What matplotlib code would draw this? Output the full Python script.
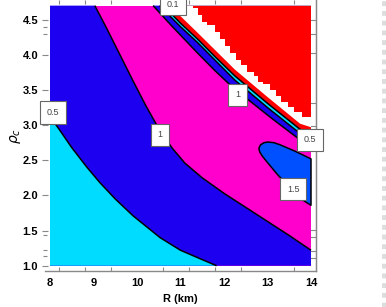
import matplotlib
matplotlib.use('Agg')
import matplotlib.pyplot as plt
from matplotlib.lines import Line2D
import numpy as np

# contour lines (R in km, rho_c)
R_lo05 = [8.0, 8.2, 8.5, 8.85, 9.15, 9.5, 9.91, 10.53, 11.0, 11.45, 11.83]
rho_lo05 = [3.12, 2.95, 2.68, 2.40, 2.18, 1.95, 1.71, 1.40, 1.22, 1.10, 1.0]

R_lo1 = [9.03, 9.3, 9.6, 9.9, 10.2, 10.5, 10.8, 11.1, 11.5, 12.0, 12.5, 13.0, 13.5, 14.0]
rho_lo1 = [4.70, 4.38, 4.01, 3.64, 3.28, 2.95, 2.68, 2.46, 2.25, 2.03, 1.83, 1.63, 1.43, 1.22]

R_up1 = [10.37, 10.8, 11.37, 11.8, 12.18, 12.48, 13.11, 13.75, 14.0]
rho_up1 = [4.7, 4.41, 4.04, 3.77, 3.55, 3.40, 3.09, 2.79, 2.72]

R_up05 = [10.52, 11.0, 11.40, 11.8, 12.25, 13.0, 13.75, 14.0]
rho_up05 = [4.7, 4.40, 4.17, 3.92, 3.64, 3.25, 2.88, 2.83]

R_up01 = [10.61, 11.0, 11.40, 11.8, 12.25, 13.0, 13.75, 14.0]
rho_up01 = [4.7, 4.45, 4.22, 3.97, 3.70, 3.31, 2.94, 2.89]

# edge of the undefined (white) band
R_nan_lo = [10.75, 11.40, 12.25, 13.0, 13.75, 14.0]
rho_nan_lo = [4.7, 4.31, 3.79, 3.40, 3.02, 2.97]

R_nan_hi = [11.29, 11.29, 11.40, 11.40, 11.50, 11.50, 11.62, 11.62, 11.79, 11.79,
            11.90, 11.90, 12.02, 12.02, 12.14, 12.14, 12.28, 12.28, 12.40, 12.40,
            12.52, 12.52, 12.68, 12.68, 12.78, 12.78, 12.90, 12.90, 13.05, 13.05,
            13.20, 13.20, 13.32, 13.32, 13.48, 13.48, 13.62, 13.62, 13.80, 13.80, 14.0]
rho_nan_hi = [4.70, 4.66, 4.66, 4.57, 4.57, 4.47, 4.47, 4.42, 4.42, 4.32,
              4.32, 4.22, 4.22, 4.12, 4.12, 4.03, 4.03, 3.93, 3.93, 3.85,
              3.85, 3.76, 3.76, 3.70, 3.70, 3.62, 3.62, 3.58, 3.58, 3.50,
              3.50, 3.42, 3.42, 3.33, 3.33, 3.26, 3.26, 3.19, 3.19, 3.12, 3.12]

# closed 1.5 contour
R_15 = [12.80, 12.84, 12.92, 13.01, 13.15, 13.29, 13.63, 14.0, 14.0, 13.82, 13.52, 13.24, 13.01, 12.88, 12.82, 12.80]
rho_15 = [2.67, 2.72, 2.75, 2.76, 2.75, 2.72, 2.63, 2.52, 1.86, 1.93, 2.11, 2.29, 2.46, 2.56, 2.62, 2.67]

lab_text = ['0.1', '0.5', '1', '1', '0.5', '1.5']
lab_R = [10.82, 8.07, 10.53, 12.31, 13.98, 13.59]
lab_rho = [4.72, 3.18, 2.86, 3.43, 2.79, 2.09]

R_min, R_max = 8.0, 14.0
rho_min, rho_max = 1.0, 4.7

c_red = '#ff0000'
c_cyan = '#00dcff'
c_blue = '#1e00f0'
c_mag = '#ff00cc'
c_royal = '#0050ff'

fig = plt.figure(figsize=(3.86, 3.07), dpi=100)
ax = fig.add_axes([45/386, 36/307, 271/386, 271/307])

ax.fill([R_min, R_max, R_max, R_min], [rho_min, rho_min, rho_max, rho_max], color=c_mag, lw=0)
ax.fill([R_min, R_min] + R_lo1 + [R_max], [rho_min, rho_max] + rho_lo1 + [rho_min], color=c_blue, lw=0)
ax.fill([R_min] + R_lo05, [rho_min] + rho_lo05, color=c_cyan, lw=0)
ax.fill(R_15, rho_15, color=c_royal, lw=0)
ax.fill(R_up1 + [R_max], rho_up1 + [rho_max], color=c_blue, lw=0)
ax.fill(R_up05 + [R_max], rho_up05 + [rho_max], color=c_cyan, lw=0)
ax.fill(R_up01 + [R_max], rho_up01 + [rho_max], color=c_red, lw=0)
ax.fill(R_nan_lo + [R_max], rho_nan_lo + [rho_max], color='white', lw=0)
ax.fill(R_nan_hi + [R_max], rho_nan_hi + [rho_max], color=c_red, lw=0)

for xs, ys in [(R_lo05, rho_lo05), (R_lo1, rho_lo1), (R_up1, rho_up1),
               (R_up05, rho_up05), (R_up01, rho_up01), (R_15, rho_15)]:
    ax.plot(xs, ys, color='black', lw=1.1, solid_capstyle='butt', solid_joinstyle='round')

for t, x, y in zip(lab_text, lab_R, lab_rho):
    ax.text(x, y, t, ha='center', va='center', fontsize=6.5, color='#444444',
            family='Liberation Sans', clip_on=False,
            bbox=dict(boxstyle='square,pad=0.75', fc='white', ec='#666666', lw=0.8))

ax.set_xlim(7.885, 14.115)
ax.set_ylim(0.925, 4.78)

ax.spines['top'].set_visible(False)
ax.spines['left'].set_visible(False)
for s in ['bottom', 'right']:
    ax.spines[s].set_color('#888888')
    ax.spines[s].set_linewidth(1.0)

ax.set_xticks(np.arange(8, 15, 1))
ax.set_xticks(np.arange(8.2, 14.0, 0.6), minor=True)
ax.tick_params(axis='x', which='major', length=0, pad=5)
ax.tick_params(axis='x', which='minor', length=3, direction='in', color='#888888',
               top=True, bottom=True, width=0.8)
ax.set_yticks(np.arange(1.0, 4.51, 0.5))
ax.set_yticklabels(['%.1f' % v for v in np.arange(1.0, 4.51, 0.5)])
ax.set_yticks([1.14, 1.23, 1.43, 4.3, 4.4], minor=True)
ax.tick_params(axis='y', which='both', direction='inout', color='#888888', width=0.8,
               left=True, right=False, pad=3)
ax.tick_params(axis='y', which='major', length=4)
ax.tick_params(axis='y', which='minor', length=2.5)

sec = ax.secondary_yaxis('right')
sec.set_yticks([1.11, 1.21, 1.41, 1.51, 2.99, 3.31, 4.03, 4.3, 4.5])
sec.tick_params(direction='in', length=4, color='#888888', width=0.8, labelright=False)
sec.spines['right'].set_color('#888888')

for lab in ax.get_xticklabels() + ax.get_yticklabels():
    lab.set_family('Liberation Sans')
    lab.set_fontweight('bold')
    lab.set_fontsize(8)

ax.set_xlabel('R (km)', fontsize=8, fontweight='bold', family='Liberation Sans', labelpad=4)
ax.set_ylabel(r'$\rho_c$', fontsize=10)
ax.yaxis.set_label_coords(-0.08, 0.5)

fig.add_artist(Line2D([383.5/386, 383.5/386], [0, 1], lw=3.5, color='#dddddd',
                      ls=(0, (1, 1))))

fig.savefig('out.png', dpi=100)
